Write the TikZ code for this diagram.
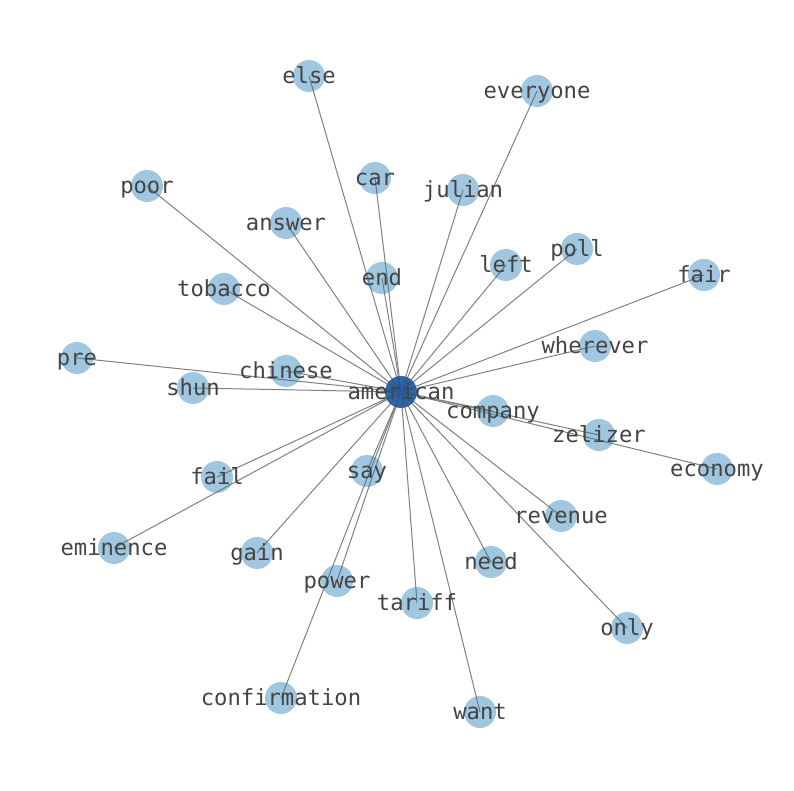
\documentclass[tikz,border=0pt]{standalone}
\usepackage{fontspec}
\setmonofont{DejaVu Sans Mono}
\definecolor{nodeblue}{RGB}{31,119,180}
\definecolor{hubblue}{RGB}{30,85,150}
\definecolor{edgegray}{RGB}{128,128,128}
\definecolor{txt}{RGB}{68,68,68}
\begin{document}
\begin{tikzpicture}[x=1pt,y=1pt,
  vert/.style={circle,minimum size=32pt,inner sep=0pt,fill=nodeblue,fill opacity=0.42,draw=none},
  hub/.style={circle,minimum size=32pt,inner sep=0pt,fill=hubblue,fill opacity=0.9,draw=none},
  lbl/.style={font=\fontsize{22.2}{24}\ttfamily,text=txt,inner sep=0pt,yshift=-3pt},
  edge/.style={draw=edgegray,line width=1pt}]
\useasboundingbox (0,0) rectangle (794,790);
\foreach \n/\x/\y in {
 american/401/392, else/309/76, everyone/537/91, car/375/178, julian/463/190,
 poor/147/186, answer/286/223, poll/577/249, left/506/265, end/382/278,
 fair/704/275, tobacco/224/289, wherever/595/346, pre/77/358, chinese/286/371,
 shun/193/388, company/493/411, zelizer/599/435, economy/717/469, say/367/471,
 fail/217/477, revenue/561/516, eminence/114/548, gain/257/553, need/491/562,
 power/337/581, tariff/417/603, only/627/628, confirmation/281/698, want/480/712}
 { \coordinate (\n) at (\x,790-\y); }
\foreach \n in {else,everyone,car,julian,poor,answer,poll,left,end,fair,tobacco,
 wherever,pre,chinese,shun,company,zelizer,economy,say,fail,revenue,eminence,
 gain,need,power,tariff,only,confirmation,want}
 { \draw[edge] (american) -- (\n); }
\foreach \n in {else,everyone,car,julian,poor,answer,poll,left,end,fair,tobacco,
 wherever,pre,chinese,shun,company,zelizer,economy,say,fail,revenue,eminence,
 gain,need,power,tariff,only,confirmation,want}
 { \node[vert] (c-\n) at (\n) {}; }
\node[hub] (c-american) at (american) {};
\foreach \n in {american,else,everyone,car,julian,poor,answer,poll,left,end,fair,tobacco,
 wherever,pre,chinese,shun,company,zelizer,economy,say,fail,revenue,eminence,
 gain,need,power,tariff,only,confirmation,want}
 { \node[lbl] (t-\n) at (\n) {\strut\n}; }
\end{tikzpicture}
\end{document}
